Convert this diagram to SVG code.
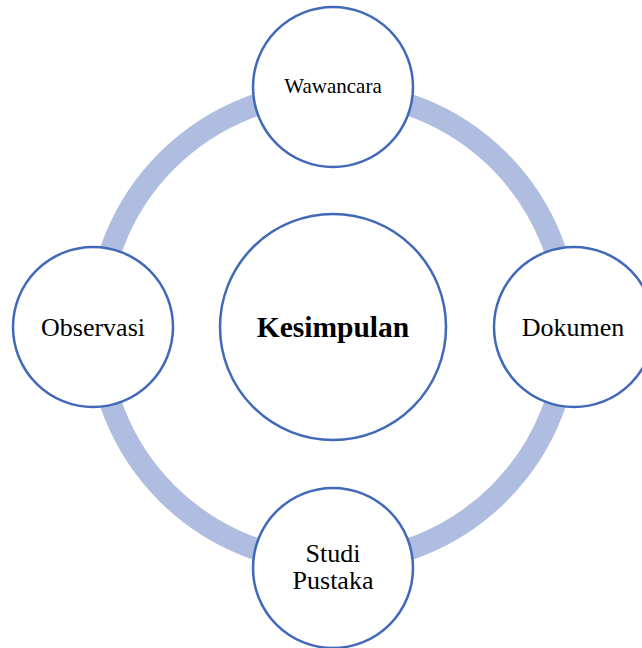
<svg xmlns="http://www.w3.org/2000/svg" width="642" height="648" viewBox="0 0 642 648">
  <style>
    .node { fill: #ffffff; stroke: #4069b8; stroke-width: 2.5; }
    .lbl { font-family: "Liberation Serif", "Times New Roman", serif; fill: #000000; text-anchor: middle; font-size: 26px; }
    .ring { fill: none; stroke: #afbde0; stroke-width: 22; }
  </style>
  <rect x="0" y="0" width="642" height="648" fill="#ffffff"/>
  <g id="connectors">
    <circle class="ring" cx="333" cy="327" r="235"/>
  </g>
  <g id="kesimpulan">
    <circle class="node" cx="333" cy="327" r="113"/>
    <text class="lbl" x="333" y="337" font-weight="bold" style="font-size:29.5px">Kesimpulan</text>
  </g>
  <g id="wawancara">
    <circle class="node" cx="333" cy="87" r="80"/>
    <text class="lbl" x="333" y="93" style="font-size:21px">Wawancara</text>
  </g>
  <g id="dokumen">
    <circle class="node" cx="574" cy="327" r="80"/>
    <text class="lbl" x="573" y="336">Dokumen</text>
  </g>
  <g id="studi-pustaka">
    <circle class="node" cx="333" cy="568" r="80"/>
    <text class="lbl" x="333" y="562">Studi</text>
    <text class="lbl" x="333" y="589">Pustaka</text>
  </g>
  <g id="observasi">
    <circle class="node" cx="93" cy="327" r="80"/>
    <text class="lbl" x="93" y="336">Observasi</text>
  </g>
</svg>
